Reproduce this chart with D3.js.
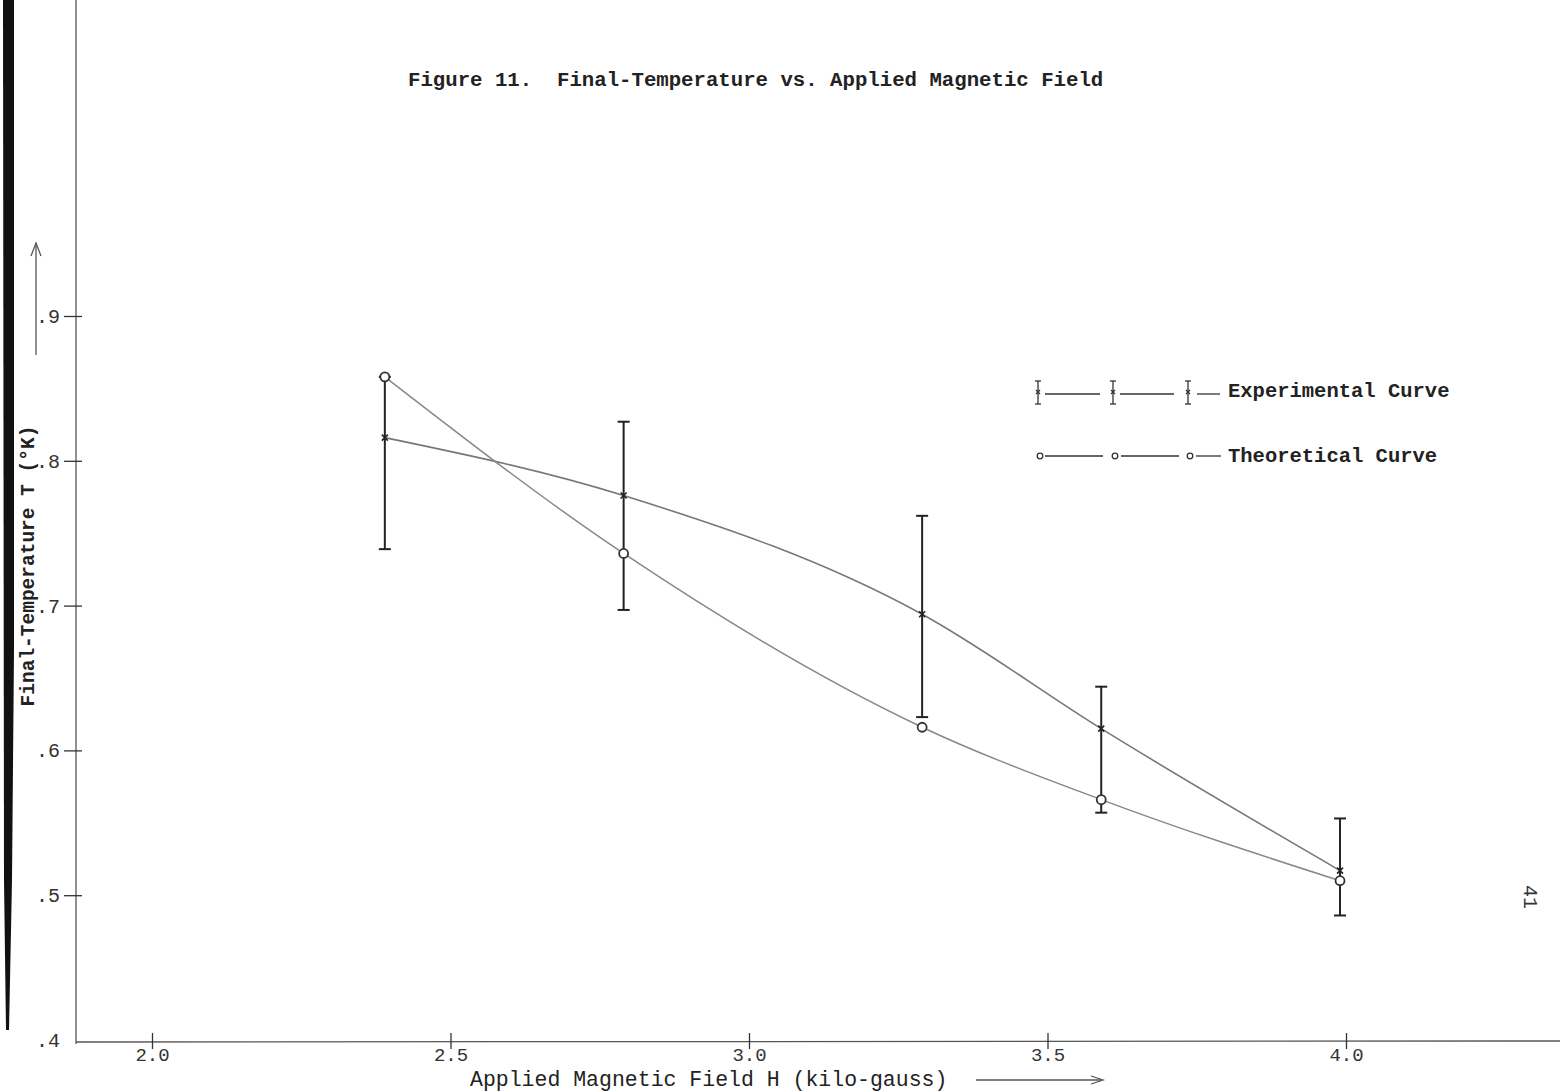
<!DOCTYPE html>
<html>
<head>
<meta charset="utf-8">
<script src="https://cdn.jsdelivr.net/npm/d3@7"></script>
<style>
  body { margin: 0; background: #fff; }
  svg { display: block; }
  .tick text { font-family: "Liberation Mono", "DejaVu Sans Mono", monospace; fill: #333; }
</style>
</head>
<body>
<div id="chart"></div>
<script>
// values
const fieldH = [2.39, 2.79, 3.29, 3.59, 3.99];
const expT = [0.816, 0.776, 0.694, 0.615, 0.517];
const expLo = [0.739, 0.697, 0.623, 0.557, 0.486];
const expHi = [0.858, 0.827, 0.762, 0.644, 0.553];
const theoT = [0.858, 0.736, 0.616, 0.566, 0.510];
const xTicks = [2.0, 2.5, 3.0, 3.5, 4.0];
const yTicks = [0.4, 0.5, 0.6, 0.7, 0.8, 0.9];

const width = 1560, height = 1092;
const mono = '"Liberation Mono", "DejaVu Sans Mono", monospace';

const svg = d3.select("#chart").append("svg")
    .attr("width", width)
    .attr("height", height);

const x = d3.scaleLinear().domain([2.0, 4.0]).range([152, 1346]);
const y = d3.scaleLinear().domain([0.4, 0.9]).range([1040, 316]);

// scan edge on the left
svg.append("path")
    .attr("d", "M3,0 L14,0 L14,650 L12,880 L9,1030 L6,1030 L4,880 Z")
    .attr("fill", "#111");

// axis lines
svg.append("line")
    .attr("x1", 76).attr("x2", 76)
    .attr("y1", 0).attr("y2", 1044)
    .attr("stroke", "#555").attr("stroke-width", 1.3);
svg.append("line")
    .attr("x1", 76).attr("x2", width)
    .attr("y1", 1042).attr("y2", 1041)
    .attr("stroke", "#555").attr("stroke-width", 1.3);

// x axis ticks
const xAxis = svg.append("g")
    .attr("transform", "translate(0,1041)")
    .call(d3.axisBottom(x).tickValues(xTicks).tickFormat(d3.format(".1f")).tickSize(8));
xAxis.select(".domain").remove();
xAxis.selectAll(".tick line").attr("y1", -8).attr("y2", 8).attr("stroke", "#333").attr("stroke-width", 1.3);
xAxis.selectAll(".tick text").attr("y", 7).attr("font-size", 19);

// y axis ticks
const yAxis = svg.append("g")
    .attr("transform", "translate(76,0)")
    .call(d3.axisLeft(y).tickValues(yTicks).tickFormat(d => d3.format(".1f")(d).replace(/^0/, "")).tickSize(8));
yAxis.select(".domain").remove();
yAxis.selectAll(".tick line").attr("x1", -12).attr("x2", 6).attr("stroke", "#333").attr("stroke-width", 1.3)
    .filter(d => d === 0.4).remove();
yAxis.selectAll(".tick text").attr("x", -16).attr("font-size", 20);

// title
svg.append("text")
    .attr("x", 408).attr("y", 86)
    .attr("font-family", mono).attr("font-weight", "bold").attr("font-size", 20.7)
    .attr("fill", "#222")
    .attr("xml:space", "preserve")
    .text("Figure 11.  Final-Temperature vs. Applied Magnetic Field");

// y label and arrow
svg.append("text")
    .attr("transform", "translate(34,566) rotate(-90)")
    .attr("text-anchor", "middle")
    .attr("font-family", mono).attr("font-weight", "bold").attr("font-size", 19.5)
    .attr("fill", "#222")
    .text("Final-Temperature T (°K)");
svg.append("line")
    .attr("x1", 36).attr("x2", 36).attr("y1", 355).attr("y2", 243)
    .attr("stroke", "#555").attr("stroke-width", 1.3);
svg.append("path")
    .attr("d", "M31,256 L36,243 L41,256")
    .attr("fill", "none").attr("stroke", "#555").attr("stroke-width", 1.3);

// x label and arrow
svg.append("text")
    .attr("x", 470).attr("y", 1086)
    .attr("font-family", mono).attr("font-size", 21.5)
    .attr("fill", "#222")
    .text("Applied Magnetic Field H (kilo-gauss)");
svg.append("line")
    .attr("x1", 976).attr("x2", 1102).attr("y1", 1080).attr("y2", 1080)
    .attr("stroke", "#555").attr("stroke-width", 1.3);
svg.append("path")
    .attr("d", "M1091,1076 L1103,1080 L1091,1084")
    .attr("fill", "none").attr("stroke", "#555").attr("stroke-width", 1.3);

// curves
const expData = fieldH.map((h, i) => ({ h: h, t: expT[i], lo: expLo[i], hi: expHi[i] }));
const theoData = fieldH.map((h, i) => ({ h: h, t: theoT[i] }));

const line = d3.line()
    .x(d => x(d.h))
    .y(d => y(d.t))
    .curve(d3.curveMonotoneX);

svg.append("path")
    .datum(expData)
    .attr("d", line)
    .attr("fill", "none").attr("stroke", "#777").attr("stroke-width", 1.6);
svg.append("path")
    .datum(theoData)
    .attr("d", line)
    .attr("fill", "none").attr("stroke", "#888").attr("stroke-width", 1.5);

// error bars
const bars = svg.append("g").selectAll("g")
    .data(expData)
    .join("g")
    .attr("stroke", "#222").attr("stroke-width", 2);
bars.append("line")
    .attr("x1", d => x(d.h)).attr("x2", d => x(d.h))
    .attr("y1", d => y(d.hi)).attr("y2", d => y(d.lo));
bars.append("line")
    .attr("x1", d => x(d.h) - 6).attr("x2", d => x(d.h) + 6)
    .attr("y1", d => y(d.hi)).attr("y2", d => y(d.hi));
bars.append("line")
    .attr("x1", d => x(d.h) - 6).attr("x2", d => x(d.h) + 6)
    .attr("y1", d => y(d.lo)).attr("y2", d => y(d.lo));

// markers
svg.append("g").selectAll("path")
    .data(expData)
    .join("path")
    .attr("transform", d => "translate(" + x(d.h) + "," + y(d.t) + ")")
    .attr("d", "M-3,-3 L3,3 M-3,3 L3,-3")
    .attr("stroke", "#222").attr("stroke-width", 1.6);
svg.append("g").selectAll("circle")
    .data(theoData)
    .join("circle")
    .attr("cx", d => x(d.h)).attr("cy", d => y(d.t))
    .attr("r", 4.5)
    .attr("fill", "#fff").attr("stroke", "#333").attr("stroke-width", 1.8);

// legend
const legend = svg.append("g").attr("stroke", "#333").attr("stroke-width", 1.3);
[1038, 1113, 1188].forEach(cx => {
  legend.append("line").attr("x1", cx).attr("x2", cx).attr("y1", 381).attr("y2", 404);
  legend.append("line").attr("x1", cx - 3).attr("x2", cx + 3).attr("y1", 381).attr("y2", 381);
  legend.append("line").attr("x1", cx - 3).attr("x2", cx + 3).attr("y1", 404).attr("y2", 404);
  legend.append("path").attr("d", "M" + (cx - 2) + ",390 L" + (cx + 2) + ",394 M" + (cx - 2) + ",394 L" + (cx + 2) + ",390");
  legend.append("circle").attr("cx", cx + 2).attr("cy", 456).attr("r", 2.8).attr("fill", "#fff");
});
[[1045, 1100], [1120, 1174], [1197, 1220]].forEach(s => {
  legend.append("line").attr("x1", s[0]).attr("x2", s[1]).attr("y1", 394).attr("y2", 394);
});
[[1045, 1103], [1121, 1179], [1196, 1221]].forEach(s => {
  legend.append("line").attr("x1", s[0]).attr("x2", s[1]).attr("y1", 456).attr("y2", 456);
});
svg.append("text")
    .attr("x", 1228).attr("y", 397)
    .attr("font-family", mono).attr("font-weight", "bold").attr("font-size", 20.5)
    .attr("fill", "#222")
    .text("Experimental Curve");
svg.append("text")
    .attr("x", 1228).attr("y", 462)
    .attr("font-family", mono).attr("font-weight", "bold").attr("font-size", 20.5)
    .attr("fill", "#222")
    .text("Theoretical Curve");

// page number
svg.append("text")
    .attr("transform", "translate(1524,897) rotate(90)")
    .attr("text-anchor", "middle")
    .attr("font-family", mono).attr("font-size", 20)
    .attr("fill", "#333")
    .text("41");
</script>
</body>
</html>
